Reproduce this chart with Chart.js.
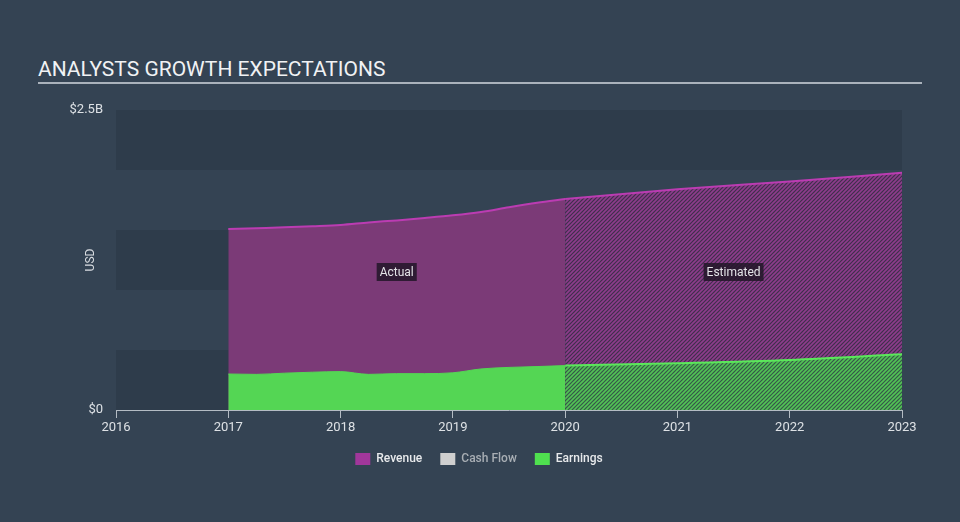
<!DOCTYPE html>
<html>
<head>
<meta charset="utf-8">
<script src="https://cdn.jsdelivr.net/npm/chart.js@4.4.0/dist/chart.umd.min.js"></script>
<style>
  html, body { margin: 0; padding: 0; background: #344353; }
  body { width: 960px; height: 522px; position: relative; overflow: hidden; font-family: Roboto, "Noto Sans", sans-serif; }
  #title {
    position: absolute; left: 38px; top: 57px; width: 884px;
    font-size: 21px; line-height: 25px; color: #f0f2f4;
    border-bottom: 2px solid #aab2bb;
  }
  #wrap { position: absolute; left: 0; top: 0; width: 960px; height: 522px; }
</style>
</head>
<body>
<div id="title">ANALYSTS GROWTH EXPECTATIONS</div>
<div id="wrap"><canvas id="chart"></canvas></div>
<script>
/* ---------- data (USD billions) ---------- */
const actualYears     = [2017, 2017.25, 2017.5, 2017.75, 2018, 2018.25, 2018.5, 2018.75, 2019, 2019.25, 2019.5, 2019.75, 2020];
const revenueActual   = [1.508, 1.515, 1.522, 1.531, 1.542, 1.563, 1.58, 1.6, 1.622, 1.65, 1.69, 1.727, 1.758];
const earningsActual  = [0.30, 0.297, 0.307, 0.315, 0.32, 0.297, 0.303, 0.303, 0.31, 0.342, 0.355, 0.362, 0.37];

const estimateYears    = [2020, 2021, 2022, 2023];
const revenueEstimate  = [1.758, 1.84, 1.905, 1.977];
const earningsEstimate = [0.37, 0.39, 0.417, 0.464];

const xTicks = [2016, 2017, 2018, 2019, 2020, 2021, 2022, 2023];
const yTicks = [0, 2.5];
const bandEdges = [0, 0.5, 1, 1.5, 2, 2.5];

const toPoints = (xs, ys) => xs.map((x, i) => ({ x: x, y: ys[i] }));

/* ---------- hatch patterns ---------- */
function hatch(base, stripe) {
  const c = document.createElement('canvas');
  c.width = 4; c.height = 4;
  const g = c.getContext('2d');
  g.fillStyle = base;
  g.fillRect(0, 0, 4, 4);
  g.strokeStyle = stripe;
  g.lineWidth = 1.6;
  g.beginPath();
  g.moveTo(0, 4); g.lineTo(4, 0);
  g.moveTo(-1, 1); g.lineTo(1, -1);
  g.moveTo(3, 5); g.lineTo(5, 3);
  g.stroke();
  return g.createPattern(c, 'repeat');
}

/* ---------- plugins ---------- */
const bands = {
  id: 'bands',
  beforeDraw(chart) {
    const { ctx, chartArea: a, scales: { y } } = chart;
    ctx.save();
    ctx.fillStyle = '#2e3c4b';
    for (let i = 0; i < bandEdges.length - 1; i += 2) {
      const top = y.getPixelForValue(bandEdges[i + 1]);
      const bot = y.getPixelForValue(bandEdges[i]);
      ctx.fillRect(a.left, top, a.right - a.left, bot - top);
    }
    ctx.restore();
  }
};

const tags = {
  id: 'tags',
  afterDatasetsDraw(chart) {
    const { ctx, scales: { x, y } } = chart;
    const items = [['Actual', 2018.5], ['Estimated', 2021.5]];
    ctx.save();
    ctx.font = '12px Roboto, sans-serif';
    ctx.textAlign = 'center';
    ctx.textBaseline = 'middle';
    items.forEach(([txt, xv]) => {
      const px = x.getPixelForValue(xv);
      const py = y.getPixelForValue(1.15);
      const w = ctx.measureText(txt).width + 6;
      ctx.fillStyle = 'rgba(34,22,40,0.85)';
      ctx.fillRect(px - w / 2, py - 9, w, 18);
      ctx.fillStyle = '#e4e4e8';
      ctx.fillText(txt, px, py + 1);
    });
    // USD axis title
    ctx.translate(91, (chart.chartArea.top + chart.chartArea.bottom) / 2);
    ctx.rotate(-Math.PI / 2);
    ctx.fillStyle = '#d8dce0';
    ctx.fillText('USD', 0, 0);
    ctx.restore();
  }
};

/* ---------- chart ---------- */
const ctx = document.getElementById('chart').getContext('2d');
const revHatch  = hatch('#3f2f4c', '#8e3c8c');
const earnHatch = hatch('#36574a', '#52c455');

new Chart(ctx, {
  type: 'line',
  data: {
    datasets: [
      { label: 'Earnings', data: toPoints(actualYears, earningsActual), order: 1,
        borderColor: '#54d654', borderWidth: 1, backgroundColor: '#54d654', fill: 'origin' },
      { label: 'Earnings est', data: toPoints(estimateYears, earningsEstimate), order: 1,
        borderColor: '#5be85b', borderWidth: 2, backgroundColor: earnHatch, fill: 'origin' },
      { label: 'Revenue', data: toPoints(actualYears, revenueActual), order: 2,
        borderColor: '#bb3cb2', borderWidth: 2, backgroundColor: '#7b3a77', fill: 'origin' },
      { label: 'Revenue est', data: toPoints(estimateYears, revenueEstimate), order: 2,
        borderColor: '#bb3cb2', borderWidth: 2, backgroundColor: revHatch, fill: 'origin' },
      { label: 'Cash Flow', data: [], order: 3, borderColor: '#d0d0d0', backgroundColor: '#d0d0d0' }
    ]
  },
  options: {
    responsive: true,
    maintainAspectRatio: false,
    animation: false,
    layout: { padding: { left: 56, right: 58, top: 110, bottom: 47 } },
    elements: { point: { radius: 0 }, line: { tension: 0.3, cubicInterpolationMode: 'monotone' } },
    plugins: {
      tooltip: { enabled: false },
      legend: {
        position: 'bottom',
        labels: {
          color: '#e8eaec',
          font: { family: 'Roboto', size: 12, weight: '500' },
          boxWidth: 15, boxHeight: 12, padding: 18,
          generateLabels: () => [
            { text: 'Revenue',   fillStyle: '#a1379b', strokeStyle: '#a1379b', lineWidth: 0, fontColor: '#e8eaec', datasetIndex: 2 },
            { text: 'Cash Flow', fillStyle: '#cfcfcf', strokeStyle: '#cfcfcf', lineWidth: 0, fontColor: '#a8aeb4', datasetIndex: 4 },
            { text: 'Earnings',  fillStyle: '#4fe04f', strokeStyle: '#4fe04f', lineWidth: 0, fontColor: '#e8eaec', datasetIndex: 0 }
          ]
        },
        onClick: null
      }
    },
    scales: {
      x: {
        type: 'linear', min: 2016, max: 2023,
        afterBuildTicks: s => { s.ticks = xTicks.map(v => ({ value: v })); },
        afterFit: s => { s.height = 25; },
        grid: { drawOnChartArea: false, color: '#b4bcc4', tickLength: 8 },
        border: { color: '#b4bcc4', width: 1 },
        ticks: { color: '#dde1e5', font: { family: 'Roboto', size: 13 }, padding: 2, maxRotation: 0,
                 callback: v => String(v) }
      },
      y: {
        min: 0, max: 2.5,
        afterBuildTicks: s => { s.ticks = yTicks.map(v => ({ value: v })); },
        afterFit: s => { s.width = 60; },
        grid: { display: false, drawTicks: false },
        border: { display: false },
        ticks: { color: '#dde1e5', font: { family: 'Roboto', size: 13 }, padding: 13,
                 callback: v => v === 0 ? '$0' : '$' + v + 'B' }
      }
    }
  },
  plugins: [bands, tags]
});
</script>
</body>
</html>
